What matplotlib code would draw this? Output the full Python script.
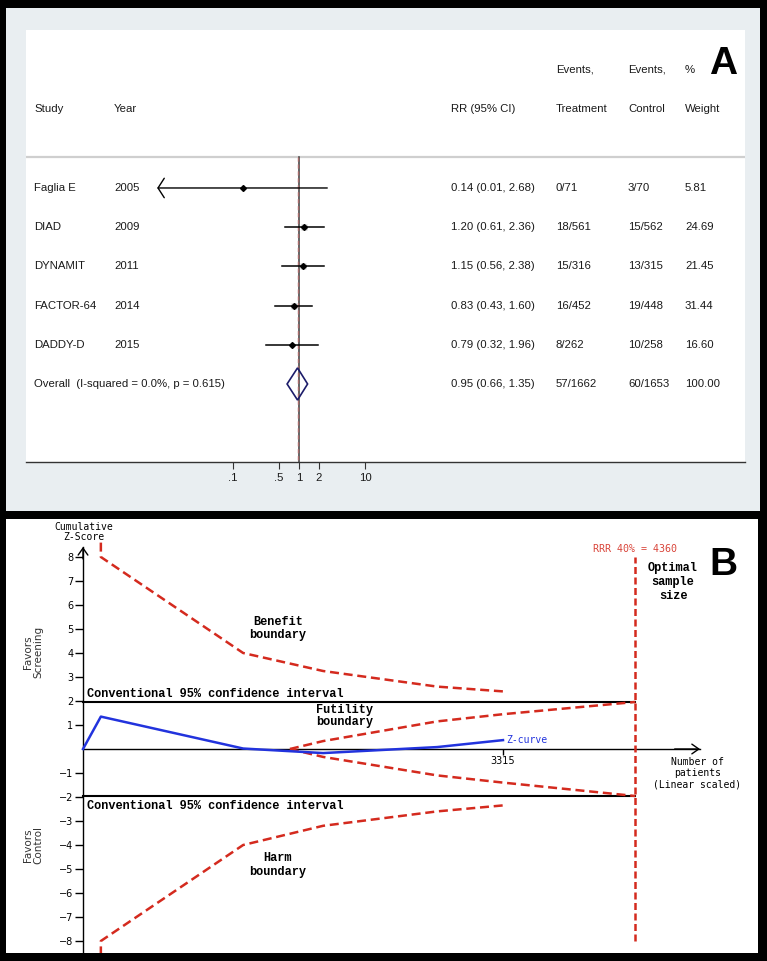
import matplotlib
matplotlib.use("Agg")
import matplotlib.pyplot as plt
from matplotlib.patches import Rectangle, Polygon
from matplotlib.transforms import blended_transform_factory

# ---------------- Panel A data (forest plot) ----------------
studies = ["Faglia E", "DIAD", "DYNAMIT", "FACTOR-64", "DADDY-D"]
years = ["2005", "2009", "2011", "2014", "2015"]
rr = [0.14, 1.20, 1.15, 0.83, 0.79]
rr_lo = [0.01, 0.61, 0.56, 0.43, 0.32]
rr_hi = [2.68, 2.36, 2.38, 1.60, 1.96]
events_t = ["0/71", "18/561", "15/316", "16/452", "8/262"]
events_c = ["3/70", "15/562", "13/315", "19/448", "10/258"]
weights = [5.81, 24.69, 21.45, 31.44, 16.60]
overall_label = "Overall  (I-squared = 0.0%, p = 0.615)"
overall_rr, overall_lo, overall_hi = 0.95, 0.66, 1.35
overall_t, overall_c, overall_w = "57/1662", "60/1653", "100.00"
forest_ticks = [0.1, 0.5, 1, 2, 10]
forest_ticklabels = [".1", ".5", "1", "2", "10"]
forest_clip_lo = 0.0071  # display limit where Faglia CI is truncated (arrow)

# ---------------- Panel B data (trial sequential analysis) ----------------
cum_n = [0, 141, 1264, 1895, 2795, 3315]
z_curve = [0, 1.35, 0.02, -0.17, 0.08, 0.37]
bound_n = [141, 141, 1264, 1895, 2795, 3315]
benefit = [8.6, 8.0, 4.0, 3.25, 2.6, 2.4]
harm = [-8.6, -8.0, -4.0, -3.2, -2.6, -2.35]
fut_n = [1633, 1895, 2795, 3315, 4360]
fut_upper = [0, 0.33, 1.15, 1.45, 1.96]
fut_lower = [0, -0.33, -1.1, -1.4, -1.96]
ris = 4360
ris_range = [-8, 8]
conv_z = 1.96
x_axis_max = 4870
y_axis_max = 8.42
yticks_B = [-8, -7, -6, -5, -4, -3, -2, -1, 1, 2, 3, 4, 5, 6, 7, 8]
xticks_B = [3315]

W, H = 767, 961
fig = plt.figure(figsize=(W / 100, H / 100), dpi=100, facecolor="black")


def rect(x0, y0, x1, y1):
    return [x0 / W, 1 - y1 / H, (x1 - x0) / W, (y1 - y0) / H]


def fx(px):
    return px / W


# panel A background
fig.add_artist(Rectangle((fx(6), 1 - 511 / H), (760 - 6) / W, (511 - 8) / H,
                         transform=fig.transFigure, facecolor="#e9eef1",
                         edgecolor="none", zorder=-5))

narrow = ["Liberation Sans", "DejaVu Sans"]
tcol = "#1a1a1a"
fs_A = 8.2

# ---------------- Panel A: forest plot ----------------
axF = fig.add_axes(rect(26, 30, 745, 462))
axF.set_facecolor("white")
axF.set_xscale("log")
axF.set_xlim(10 ** ((26 - 299) / 66), 10 ** ((745 - 299) / 66))
axF.set_ylim(6.99, -4.03)
for s in ["top", "right", "left"]:
    axF.spines[s].set_visible(False)
axF.spines["bottom"].set_color("#333333")
axF.spines["bottom"].set_linewidth(1.0)
axF.set_yticks([])
axF.set_xticks(forest_ticks)
axF.set_xticklabels(forest_ticklabels, family=narrow, fontsize=fs_A, color=tcol)
axF.minorticks_off()
axF.tick_params(axis="x", direction="out", length=5, width=0.8, pad=3, colors="#333333")
for lab in axF.get_xticklabels():
    lab.set_color(tcol)

n = len(studies)
ov_row = n
sep_row = -0.79
# separator
axF.axhline(sep_row, color="#cfcfcf", lw=1.6)
# null line and overall line
axF.plot([1, 1], [sep_row, 6.99], color="#3a3a3a", lw=1.1, zorder=2)
axF.plot([overall_rr, overall_rr], [sep_row, 6.99], color="#a86a6a", lw=1.0,
         dashes=(3, 2), zorder=3)

for i in range(n):
    ms = 0.8 * weights[i] ** 0.5
    axF.plot(rr[i], i, marker="s", ms=ms, color="#c4c4c4", mec="none", zorder=3)
    if rr_lo[i] < forest_clip_lo * 1.5:
        axF.annotate("", xy=(forest_clip_lo, i), xytext=(rr_hi[i], i),
                     arrowprops=dict(arrowstyle="->,head_length=0.45,head_width=0.7",
                                     lw=1.0, color="black", shrinkA=0, shrinkB=0),
                     zorder=4)
    else:
        axF.plot([rr_lo[i], rr_hi[i]], [i, i], color="black", lw=1.1, zorder=4)
    axF.plot(rr[i], i, marker="D", ms=3, color="black", zorder=5)

dh = 0.41
axF.add_patch(Polygon([(overall_lo, ov_row), (overall_rr, ov_row - dh),
                       (overall_hi, ov_row), (overall_rr, ov_row + dh)],
                      closed=True, facecolor="none", edgecolor="#1c1c6a",
                      lw=1.2, zorder=6))

trA = blended_transform_factory(fig.transFigure, axF.transData)
col_x = {"study": 34, "year": 114, "rr": 451, "t": 556, "c": 628, "w": 685}


def ctext(px, row, s):
    axF.text(fx(px), row, s, transform=trA, family=narrow, fontsize=fs_A,
             color=tcol, va="center", ha="left")


# headers
ctext(col_x["study"], -2.02, "Study")
ctext(col_x["year"], -2.02, "Year")
ctext(col_x["rr"], -2.02, "RR (95% CI)")
ctext(col_x["t"], -3.01, "Events,")
ctext(col_x["t"], -2.02, "Treatment")
ctext(col_x["c"], -3.01, "Events,")
ctext(col_x["c"], -2.02, "Control")
ctext(col_x["w"], -3.01, "%")
ctext(col_x["w"], -2.02, "Weight")

for i in range(n):
    ctext(col_x["study"], i, studies[i])
    ctext(col_x["year"], i, years[i])
    ctext(col_x["rr"], i, f"{rr[i]:.2f} ({rr_lo[i]:.2f}, {rr_hi[i]:.2f})")
    ctext(col_x["t"], i, events_t[i])
    ctext(col_x["c"], i, events_c[i])
    ctext(col_x["w"], i, f"{weights[i]:.2f}")
ctext(col_x["study"], ov_row, overall_label)
ctext(col_x["rr"], ov_row, f"{overall_rr:.2f} ({overall_lo:.2f}, {overall_hi:.2f})")
ctext(col_x["t"], ov_row, overall_t)
ctext(col_x["c"], ov_row, overall_c)
ctext(col_x["w"], ov_row, overall_w)

fig.text(fx(723), 1 - 64 / H, "A", fontsize=28, fontweight="bold",
         family=["Liberation Sans", "DejaVu Sans"], ha="center", va="center",
         color="black")

# ---------------- Panel B: TSA ----------------
axB = fig.add_axes(rect(6, 519, 758, 953))
axB.set_facecolor("white")
sx = 3315 / (503 - 83)
axB.set_xlim((6 - 83) * sx, (758 - 83) * sx)
axB.set_ylim((749 - 953) / 24.0, (749 - 519) / 24.0)
for s in ["top", "right"]:
    axB.spines[s].set_visible(False)
axB.spines["left"].set_position(("data", 0))
axB.spines["bottom"].set_position(("data", 0))
axB.spines["left"].set_bounds(-8.7, y_axis_max)
axB.spines["bottom"].set_bounds(0, x_axis_max)
for s in ["left", "bottom"]:
    axB.spines[s].set_linewidth(1.0)
    axB.spines[s].set_color("black")
axB.set_yticks(yticks_B)
axB.set_xticks(xticks_B)
axB.tick_params(axis="y", direction="out", length=6, width=1, labelsize=7, pad=1)
axB.tick_params(axis="x", direction="out", length=4, width=1, labelsize=7, pad=1)

arrow_kw = dict(arrowstyle="->,head_length=0.5,head_width=0.35", lw=1.0,
                color="black", shrinkA=0, shrinkB=0)
axB.annotate("", xy=(0, y_axis_max), xytext=(0, y_axis_max - 0.5), arrowprops=arrow_kw)
axB.annotate("", xy=(x_axis_max, 0), xytext=(x_axis_max - 200, 0), arrowprops=arrow_kw)

red = "#d42a1e"
dash = (3.6, 1.9)
axB.plot([0, ris], [conv_z, conv_z], color="black", lw=1.5, zorder=3)
axB.plot([0, ris], [-conv_z, -conv_z], color="black", lw=1.5, zorder=3)
axB.plot(bound_n, benefit, color=red, lw=1.8, dashes=dash, zorder=4)
axB.plot(bound_n, harm, color=red, lw=1.8, dashes=dash, zorder=4)
axB.plot(fut_n, fut_upper, color=red, lw=1.8, dashes=dash, zorder=4)
axB.plot(fut_n, fut_lower, color=red, lw=1.8, dashes=dash, zorder=4)
axB.plot([ris, ris], ris_range, color=red, lw=1.8, dashes=(2.8, 1.4), zorder=4)
axB.plot(cum_n, z_curve, color="#2233dd", lw=1.8, zorder=5)

mono = ["DejaVu Sans Mono"]
cour = ["Liberation Mono", "DejaVu Sans Mono"]


def ptext(px, py, s, **kw):
    fig.text(fx(px), 1 - py / H, s, **kw)


ptext(84, 531.5, "Cumulative\nZ-Score", family=mono, fontsize=7, ha="center",
      va="center", linespacing=1.0)
ptext(33.5, 652, "Favors\nScreening", family=["DejaVu Sans"], fontsize=7.5,
      rotation=90, ha="center", va="center", color="#333333", linespacing=1.05)
ptext(33.5, 845, "Favors\nControl", family=["DejaVu Sans"], fontsize=7.5,
      rotation=90, ha="center", va="center", color="#333333", linespacing=1.05)
ptext(87, 694, "Conventional 95% confidence interval", family=cour, fontsize=8.6,
      fontweight="bold", ha="left", va="center")
ptext(87, 806, "Conventional 95% confidence interval", family=cour, fontsize=8.6,
      fontweight="bold", ha="left", va="center")
ptext(278, 628.5, "Benefit\nboundary", family=cour, fontsize=8.6, fontweight="bold",
      ha="center", va="center", linespacing=1.1)
ptext(344.5, 716, "Futility\nboundary", family=cour, fontsize=8.6, fontweight="bold",
      ha="center", va="center", linespacing=1.1)
ptext(278, 865, "Harm\nboundary", family=cour, fontsize=8.6, fontweight="bold",
      ha="center", va="center", linespacing=1.25)
ptext(673, 582, "Optimal\nsample\nsize", family=cour, fontsize=8.6, fontweight="bold",
      ha="center", va="center", linespacing=1.25)
ptext(635, 549, f"RRR 40% = {ris}", family=mono, fontsize=7.2, color="#d9453a",
      ha="center", va="center")
ptext(697.5, 773, "Number of\npatients\n(Linear scaled)", family=mono, fontsize=7,
      ha="center", va="center", linespacing=1.15)
axB.text(cum_n[-1] + 25, z_curve[-1], "Z-curve", family=mono, fontsize=7,
         color="#2233dd", ha="left", va="center")
ptext(723, 565, "B", fontsize=28, fontweight="bold",
      family=["Liberation Sans", "DejaVu Sans"], ha="center", va="center")

fig.savefig("out.png", dpi=100, facecolor="black")
